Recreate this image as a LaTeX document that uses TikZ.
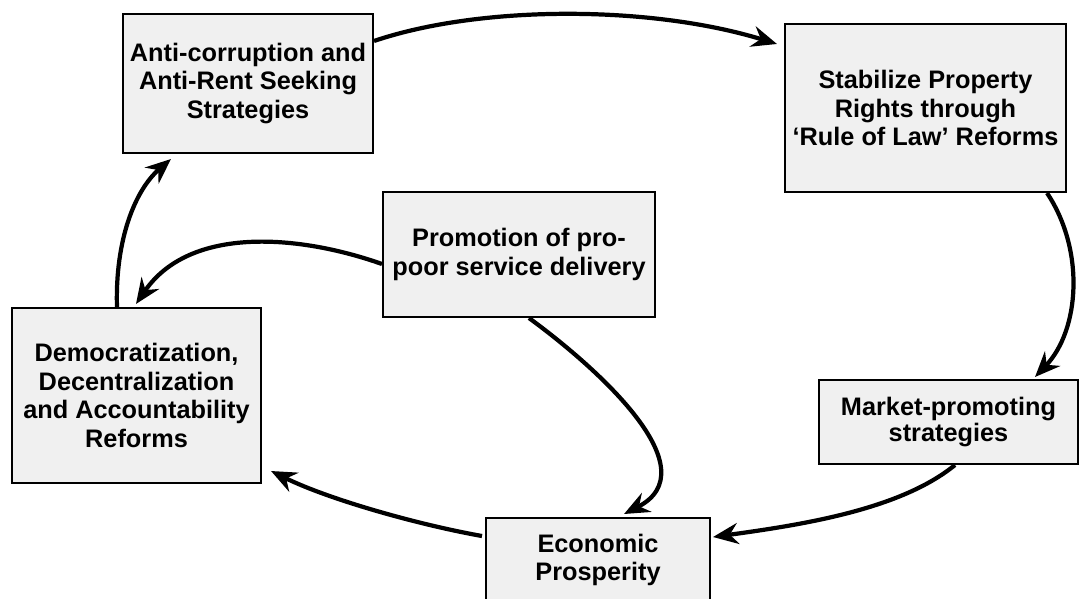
\documentclass[tikz,border=0pt]{standalone}
\usepackage{fontspec}
\setmainfont{Liberation Sans}
\usetikzlibrary{arrows.meta,calc}
\begin{document}
\begin{tikzpicture}[x=0.025cm,y=-0.025cm,
  box/.style={draw=black,line width=1.4pt,fill=gray!12,align=center,inner sep=0pt,
    font=\fontsize{18}{20.5}\selectfont\bfseries},
  link/.style={line width=3pt,-{Stealth[length=18pt,width=15pt,inset=6pt]}}]
\useasboundingbox[fill=white] (0,0) rectangle (1082,598);
\node[box,minimum width=6.25cm,minimum height=3.475cm] (anti) at (248,83.5)
  {Anti-corruption and\\Anti-Rent Seeking\\Strategies};
\node[box,minimum width=7.025cm,minimum height=4.2cm] (stab) at (925.5,108)
  {Stabilize Property\\Rights through\\`Rule of Law' Reforms};
\node[box,minimum width=6.225cm,minimum height=4.375cm] (dem) at (136.5,395.5)
  {Democratization,\\Decentralization\\and Accountability\\Reforms};
\node[box,minimum width=6.8cm,minimum height=3.125cm] (promo) at (519,254.5)
  {Promotion of pro-\\poor service delivery};
\node[box,minimum width=6.475cm,minimum height=2.1cm,
  font=\fontsize{18}{18}\selectfont\bfseries] (mkt) at (948.5,422)
  {Market-promoting\\strategies};
\node[box,minimum width=5.6cm,minimum height=2.1cm] (econ) at (598,560)
  {Economic\\Prosperity};
\draw[link] ($(anti.north east)+(0,28)$) .. controls (480,5) and (650,5) .. ($(stab.north west)+(-7,21)$);
\draw[link] ($(stab.south east)+(-20,0)$) .. controls (1085,250) and (1080,330) .. ($(mkt.north west)+(217,-2)$);
\draw[link] ($(mkt.south west)+(137,0)$) .. controls (900,510) and (800,525) .. ($(econ.north east)+(2,20)$);
\draw[link] ($(econ.north west)+(-3,19)$) .. controls (420,525) and (330,500) .. ($(dem.south east)+(9,-13)$);
\draw[link] ($(promo.south west)+(147,0)$) .. controls (600,370) and (710,470) .. ($(econ.north west)+(139,-3)$);
\draw[link] ($(promo.north west)+(0,73)$) .. controls (300,235) and (190,225) .. ($(dem.north west)+(125,-3)$);
\draw[link] ($(dem.north west)+(106,0)$) .. controls (115,240) and (135,190) .. ($(anti.south west)+(49,5)$);
\end{tikzpicture}
\end{document}
